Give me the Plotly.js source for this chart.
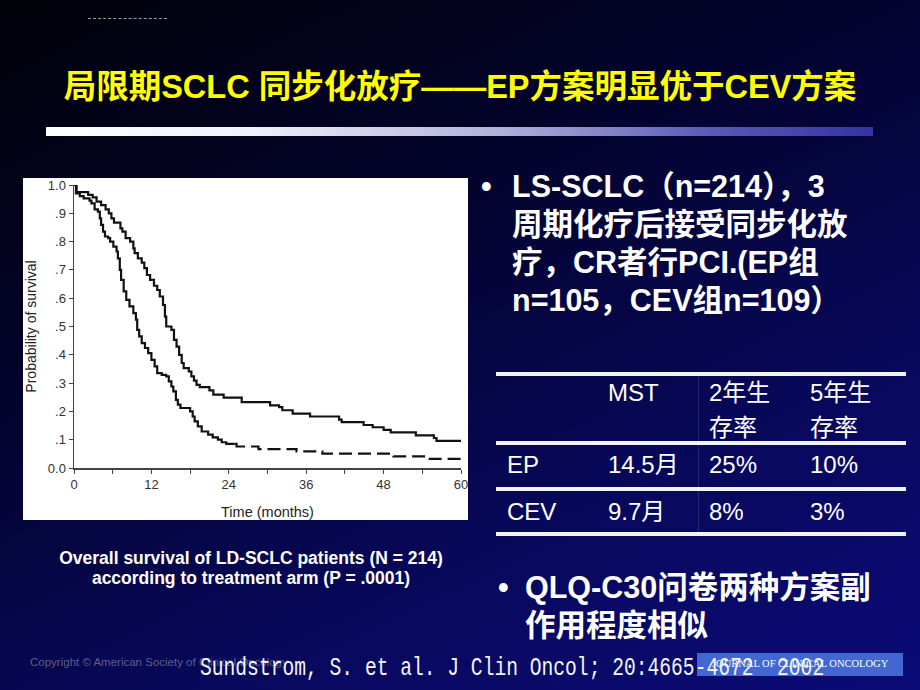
<!DOCTYPE html>
<html>
<head>
<meta charset="utf-8">
<script src="https://cdn.plot.ly/plotly-3.0.1.min.js"></script>
<style>
  html, body { margin: 0; padding: 0; }
  body {
    width: 920px; height: 690px; position: relative; overflow: hidden;
    background: linear-gradient(155deg, #010108 0%, #03032c 35%, #08085c 70%, #0b0b78 100%);
    font-family: "Liberation Sans", Arial, "Noto Sans CJK SC", sans-serif;
  }
  .abs { position: absolute; white-space: pre; }
  .bul { color: #ffffff; font-weight: bold; font-size: 30.5px; line-height: 38px; }
  .cell { color: #ffffff; font-size: 24px; line-height: 30px; }
  .rule { position: absolute; left: 496px; width: 410px; height: 4px; background: #f2f2f2; }
  #chart { position: absolute; left: 23px; top: 178px; width: 445px; height: 342px; background: #ffffff; }
</style>
</head>
<body>
<div class="abs" style="left:88px; top:18px; width:79px; border-top:1px dashed #9a9a9a;"></div>
<div id="title" class="abs" style="left:0; top:67px; width:920px; text-align:center; color:#ffff00; font-size:32.5px; line-height:40px; font-weight:bold;">局限期SCLC 同步化放疗——EP方案明显优于CEV方案</div>
<div class="abs" style="left:46px; top:127px; width:827px; height:9px; background:linear-gradient(to right, #ffffff 0%, #f0f0f8 25%, #b0b0da 55%, #5a5ab8 80%, #3434a2 100%);"></div>

<div id="chart"></div>

<div class="abs" style="left:0; top:548px; width:502px; text-align:center; color:#ffffff; font-weight:bold; font-size:17.5px; line-height:20px;">Overall survival of LD-SCLC patients (N = 214)
according to treatment arm (P = .0001)</div>

<div class="abs bul" style="left:481px; top:167px;">•</div>
<div class="abs bul" style="left:512px; top:167px;">LS-SCLC（n=214），3</div>
<div class="abs bul" style="left:512px; top:205px;">周期化疗后接受同步化放</div>
<div class="abs bul" style="left:512px; top:243px;">疗，CR者行PCI.(EP组</div>
<div class="abs bul" style="left:512px; top:281px;">n=105，CEV组n=109）</div>

<div class="abs" style="left:698px; top:372px; width:1px; height:164px; background:rgba(255,255,255,0.12);"></div>
<div class="rule" style="top:372px;"></div>
<div class="rule" style="top:441px;"></div>
<div class="rule" style="top:487px;"></div>
<div class="rule" style="top:532px;"></div>
<div class="abs cell" style="left:608px; top:378px;">MST</div>
<div class="abs cell" style="left:709px; top:378px;">2年生</div>
<div class="abs cell" style="left:709px; top:413px;">存率</div>
<div class="abs cell" style="left:810px; top:378px;">5年生</div>
<div class="abs cell" style="left:810px; top:413px;">存率</div>
<div class="abs cell" style="left:507px; top:450px;">EP</div>
<div class="abs cell" style="left:608px; top:450px;">14.5月</div>
<div class="abs cell" style="left:709px; top:450px;">25%</div>
<div class="abs cell" style="left:810px; top:450px;">10%</div>
<div class="abs cell" style="left:507px; top:497px;">CEV</div>
<div class="abs cell" style="left:608px; top:497px;">9.7月</div>
<div class="abs cell" style="left:709px; top:497px;">8%</div>
<div class="abs cell" style="left:810px; top:497px;">3%</div>

<div class="abs bul" style="left:498px; top:568px;">•</div>
<div class="abs bul" style="left:525px; top:568px;">QLQ-C30问卷两种方案副</div>
<div class="abs bul" style="left:525px; top:606px;">作用程度相似</div>

<div class="abs" style="left:30px; top:655px; color:rgba(170,170,190,0.55); font-size:11.5px; line-height:14px;">Copyright © American Society of Clinical Oncology</div>
<div class="abs" style="left:697px; top:653px; width:206px; height:23px; background:#4266d2;"></div>
<div class="abs" style="left:712px; top:657px; color:#ffffff; font-family:'Liberation Serif', serif; font-size:10.5px; line-height:14px;">JOURNAL OF CLINICAL ONCOLOGY</div>
<div class="abs" style="left:200px; top:655px; color:#f4f4f4; font-family:'Liberation Mono', monospace; font-size:25px; line-height:28px; transform:scaleX(0.785); transform-origin:0 0;">Sundstrom, S. et al. J Clin Oncol; 20:4665-4672  2002</div>

<script>
// Kaplan-Meier survival estimates (months, probability)
const epMonths = [0, 0.4, 2.2, 2.9, 3.5, 4.2, 4.9, 5.4, 5.8, 6.2, 7.2, 7.5, 8.0, 8.7, 9.2, 9.4, 9.9, 10.5, 10.9, 11.3, 11.8, 12.4, 12.9, 13.3, 13.8, 14.1, 14.3, 15.1, 15.5, 15.9, 16.3, 16.7, 17.0, 17.8, 18.2, 18.6, 19.0, 19.5, 21.0, 21.6, 23.2, 26.0, 30.4, 31.8, 32.3, 33.9, 36.6, 41.1, 41.5, 44.9, 46.3, 48.0, 49.1, 53.0, 55.8, 56.2, 60];
const epSurv = [1.0, 0.975, 0.965, 0.956, 0.941, 0.929, 0.914, 0.90, 0.882, 0.867, 0.847, 0.835, 0.812, 0.80, 0.776, 0.759, 0.741, 0.726, 0.706, 0.682, 0.665, 0.644, 0.629, 0.606, 0.576, 0.535, 0.50, 0.488, 0.453, 0.429, 0.40, 0.371, 0.353, 0.341, 0.324, 0.309, 0.294, 0.286, 0.274, 0.259, 0.249, 0.233, 0.221, 0.215, 0.204, 0.192, 0.182, 0.171, 0.162, 0.152, 0.144, 0.135, 0.126, 0.115, 0.106, 0.096, 0.096];
const cevMonths = [0, 0.3, 0.9, 1.5, 2.4, 2.7, 3.2, 3.7, 4.0, 4.2, 4.5, 4.8, 5.3, 5.6, 6.1, 6.6, 6.8, 7.1, 7.3, 7.7, 8.1, 8.6, 9.2, 9.6, 9.8, 10.1, 10.5, 11.0, 11.5, 12.0, 12.5, 12.9, 13.6, 14.3, 14.7, 15.1, 15.4, 15.8, 16.1, 16.5, 18.0, 18.4, 18.7, 19.2, 19.8, 20.8, 21.5, 22.3, 22.9, 23.6, 25.2, 28.6, 34.5, 38.5, 49.5, 54.8, 60];
const cevSurv = [1.0, 0.97, 0.961, 0.953, 0.945, 0.935, 0.914, 0.906, 0.882, 0.859, 0.835, 0.818, 0.812, 0.80, 0.782, 0.765, 0.741, 0.70, 0.665, 0.624, 0.594, 0.571, 0.547, 0.524, 0.488, 0.465, 0.441, 0.424, 0.406, 0.382, 0.359, 0.335, 0.329, 0.324, 0.306, 0.288, 0.271, 0.241, 0.224, 0.212, 0.20, 0.182, 0.165, 0.147, 0.129, 0.118, 0.108, 0.10, 0.091, 0.085, 0.076, 0.067, 0.059, 0.051, 0.041, 0.032, 0.032];
const xTickVals = [0, 12, 24, 36, 48, 60];
const xTickText = ['0', '12', '24', '36', '48', '60'];
const yTickVals = [0, 0.1, 0.2, 0.3, 0.4, 0.5, 0.6, 0.7, 0.8, 0.9, 1.0];
const yTickText = ['0.0', '.1', '.2', '.3', '.4', '.5', '.6', '.7', '.8', '.9', '1.0'];
const cevDashFrom = 24.9; // CEV curve drawn dashed after this month

// split CEV into a solid and a dashed part
const cevSolidX = [], cevSolidY = [], cevDashX = [], cevDashY = [];
for (let i = 0; i < cevMonths.length; i++) {
  if (cevMonths[i] <= cevDashFrom) { cevSolidX.push(cevMonths[i]); cevSolidY.push(cevSurv[i]); }
}
const lastY = cevSolidY[cevSolidY.length - 1];
cevSolidX.push(cevDashFrom); cevSolidY.push(lastY);
cevDashX.push(cevDashFrom); cevDashY.push(lastY);
for (let i = 0; i < cevMonths.length; i++) {
  if (cevMonths[i] > cevDashFrom) { cevDashX.push(cevMonths[i]); cevDashY.push(cevSurv[i]); }
}

const lineStyle = { color: '#111111', width: 2.2, shape: 'hv' };
const traces = [
  { x: epMonths, y: epSurv, mode: 'lines', name: 'EP', line: lineStyle, hoverinfo: 'skip', cliponaxis: false },
  { x: cevSolidX, y: cevSolidY, mode: 'lines', name: 'CEV', line: lineStyle, hoverinfo: 'skip', cliponaxis: false },
  { x: cevDashX, y: cevDashY, mode: 'lines', name: 'CEV', line: Object.assign({}, lineStyle, { dash: '13px,6px' }), hoverinfo: 'skip', cliponaxis: false }
];

const axisFont = { family: 'Liberation Sans, Arial, sans-serif', size: 13, color: '#333333' };
const layout = {
  width: 445, height: 342,
  margin: { l: 51, r: 7, t: 7, b: 52 },
  paper_bgcolor: '#ffffff', plot_bgcolor: '#ffffff',
  showlegend: false,
  xaxis: {
    range: [0, 60], showgrid: false, zeroline: false,
    showline: true, linecolor: '#444444', linewidth: 1.5,
    ticks: 'outside', ticklen: 4, tickcolor: '#444444',
    tickmode: 'array', tickvals: xTickVals, ticktext: xTickText,
    ticklabeloverflow: 'allow',
    minor: { tick0: 0, dtick: 6, ticks: 'outside', ticklen: 4, tickcolor: '#444444' },
    tickfont: axisFont,
    title: { text: 'Time (months)', font: { family: 'Liberation Sans, Arial, sans-serif', size: 14.5, color: '#222222' }, standoff: 22 }
  },
  yaxis: {
    range: [0, 1], showgrid: false, zeroline: false,
    showline: true, linecolor: '#444444', linewidth: 1.5,
    ticks: 'outside', ticklen: 4, tickcolor: '#444444',
    tickmode: 'array', tickvals: yTickVals, ticktext: yTickText,
    ticklabeloverflow: 'allow',
    tickfont: axisFont,
    title: { text: 'Probability of survival', font: { family: 'Liberation Sans, Arial, sans-serif', size: 14, color: '#222222' }, standoff: 8 }
  }
};

Plotly.newPlot('chart', traces, layout, { staticPlot: true, displayModeBar: false });
</script>
</body>
</html>
